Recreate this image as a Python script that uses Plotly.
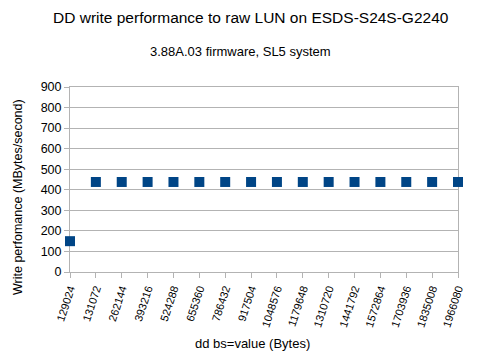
import plotly.graph_objects as go

categories = ["129024", "131072", "262144", "393216", "524288", "655360", "786432",
              "917504", "1048576", "1179648", "1310720", "1441792", "1572864",
              "1703936", "1835008", "1966080"]
write_perf = [150, 438, 438, 438, 438, 438, 438, 438, 438, 438, 438, 438, 438, 438, 438, 438]

FONT = "Liberation Sans, Arial, sans-serif"
W, H = 480, 360
L, R, T, B = 70, 22, 87, 88
PW, PH = W - L - R, H - T - B


def px_to_paper(xp, yp):
    return (xp - L) / PW, (H - B - yp) / PH


fig = go.Figure(go.Scatter(
    x=categories, y=write_perf, mode="markers",
    marker=dict(symbol="square", size=10, color="#004586"),
    cliponaxis=False,
))

tx, ty = px_to_paper(251, 17)
sx, sy = px_to_paper(240, 52)
xtx, xty = px_to_paper(252, 343)
ytx, yty = px_to_paper(18, 197)

fig.update_layout(
    width=W, height=H,
    margin=dict(l=L, r=R, t=T, b=B, autoexpand=False),
    paper_bgcolor="white", plot_bgcolor="white",
    font=dict(family=FONT, color="black"),
    showlegend=False,
    annotations=[
        dict(text="DD write performance to raw LUN on ESDS-S24S-G2240", x=tx, y=ty,
             xref="paper", yref="paper", showarrow=False, font=dict(size=15.5),
             xanchor="center", yanchor="middle"),
        dict(text="3.88A.03 firmware, SL5 system", x=sx, y=sy,
             xref="paper", yref="paper", showarrow=False, font=dict(size=13),
             xanchor="center", yanchor="middle"),
        dict(text="dd bs=value (Bytes)", x=xtx, y=xty,
             xref="paper", yref="paper", showarrow=False, font=dict(size=13),
             xanchor="center", yanchor="middle"),
        dict(text="Write perfomance (MBytes/second)", x=ytx, y=yty, textangle=-90,
             xref="paper", yref="paper", showarrow=False, font=dict(size=12.5),
             xanchor="center", yanchor="middle"),
    ],
)

fig.update_xaxes(
    type="category", range=[0, 15], automargin=False, layer="below traces",
    showline=True, linecolor="#b3b3b3", linewidth=1, mirror=True,
    showgrid=False, ticks="outside", ticklen=5, tickcolor="#b3b3b3",
    tickangle=-72, tickfont=dict(size=11),
)
fig.update_yaxes(
    range=[0, 900], dtick=100, automargin=False, layer="below traces",
    showline=True, linecolor="#b3b3b3", linewidth=1, mirror=True,
    showgrid=True, gridcolor="#b3b3b3", gridwidth=1,
    ticks="outside", ticklen=5, tickcolor="#b3b3b3", zeroline=False,
    tickfont=dict(size=12.5),
)

fig.write_html("out.html", config={"displayModeBar": False},
               post_script="document.body.style.margin='0';document.body.style.overflow='hidden';")
